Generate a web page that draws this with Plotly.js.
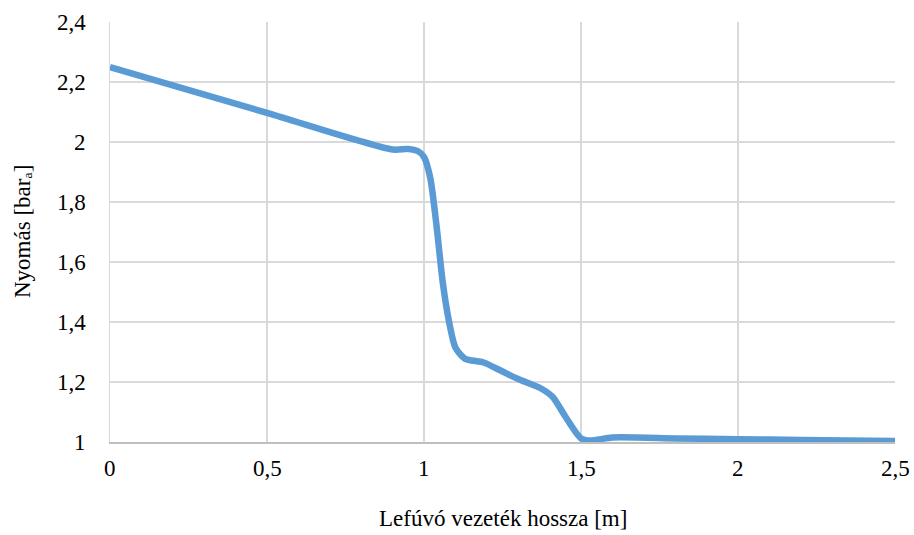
<!DOCTYPE html>
<html>
<head>
<meta charset="utf-8">
<script src="https://cdn.plot.ly/plotly-3.0.1.min.js"></script>
</head>
<body style="margin:0">
<div id="chart" style="width:914px;height:535px"></div>
<script>
const lengthM = [0, 0.5, 0.9, 0.95, 0.98, 1.0, 1.02, 1.04, 1.06, 1.08, 1.1, 1.13, 1.19, 1.25, 1.3, 1.37, 1.41, 1.45, 1.5, 1.53, 1.6, 1.8, 2.0, 2.2, 2.5];
const pressure = [2.25, 2.097, 1.975, 1.977, 1.97, 1.95, 1.88, 1.72, 1.53, 1.40, 1.315, 1.278, 1.265, 1.235, 1.21, 1.18, 1.15, 1.085, 1.012, 1.005, 1.015, 1.012, 1.009, 1.007, 1.003];
const xTickVals = [0, 0.5, 1, 1.5, 2, 2.5];
const xTickText = ["0", "0,5", "1", "1,5", "2", "2,5"];
const yTickVals = [1, 1.2, 1.4, 1.6, 1.8, 2, 2.2, 2.4];
const yTickText = ["1", "1,2", "1,4", "1,6", "1,8", "2", "2,2", "2,4"];
const xTitle = 'Lefúvó vezeték hossza [m]';
const yTitle = 'Nyomás [barₐ]';

function f() { return {family: 'Liberation Serif', size: 23, color: '#000000'}; }

const annotations = [];
xTickVals.forEach((v, i) => annotations.push({
  x: v, xref: 'x', y: 0, yref: 'paper', yanchor: 'top', yshift: -12,
  text: xTickText[i], showarrow: false, font: f()
}));
yTickVals.forEach((v, i) => annotations.push({
  x: 0, xref: 'paper', xanchor: 'right', xshift: -22, y: v, yref: 'y',
  text: yTickText[i], showarrow: false, font: f()
}));
annotations.push({x: 0.5, xref: 'paper', y: 0, yref: 'paper', yanchor: 'top', yshift: -62,
  text: xTitle, showarrow: false, font: f()});
annotations.push({x: 0, xref: 'paper', xanchor: 'center', xshift: -88, y: 0.5, yref: 'paper',
  textangle: -90, text: yTitle, showarrow: false, font: f()});

Plotly.newPlot('chart', [{
  x: lengthM, y: pressure, type: 'scatter', mode: 'lines',
  line: {color: '#5B9BD5', width: 6.5, shape: 'spline', smoothing: 0.7}
}], {
  width: 914, height: 535,
  margin: {l: 110, r: 19, t: 22, b: 93},
  showlegend: false,
  font: f(),
  xaxis: {
    range: [0, 2.5], tickvals: xTickVals, showticklabels: false,
    gridcolor: '#d9d9d9', gridwidth: 1.5,
    showline: true, linecolor: '#bfbfbf', linewidth: 1.5,
    zeroline: false
  },
  yaxis: {
    range: [1, 2.4], tickvals: yTickVals, showticklabels: false,
    gridcolor: '#d9d9d9', gridwidth: 1.5,
    showline: true, linecolor: '#d9d9d9', linewidth: 1.5,
    zeroline: false
  },
  annotations: annotations
}, {displayModeBar: false, staticPlot: true});
</script>
</body>
</html>
